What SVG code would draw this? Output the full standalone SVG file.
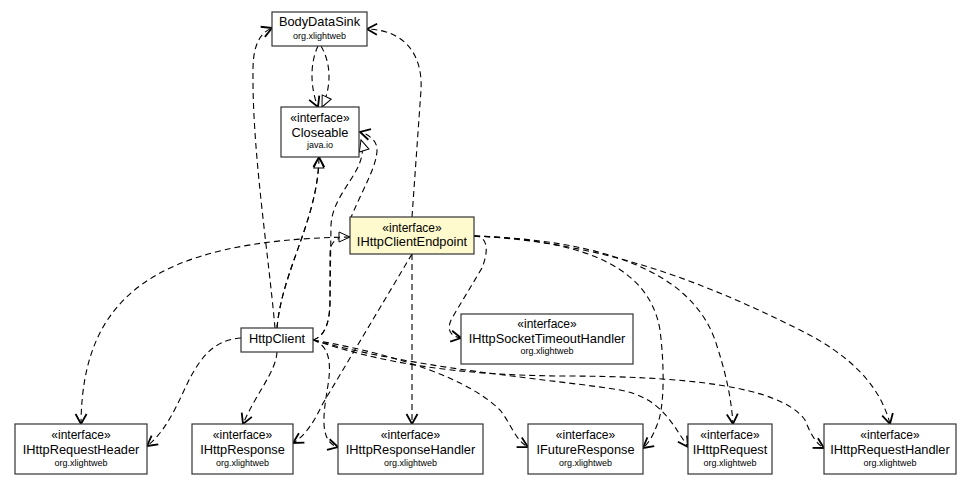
<svg xmlns="http://www.w3.org/2000/svg" width="973" height="485" viewBox="0 0 973 485">
<style>
.box{fill:#fff;stroke:#333;stroke-width:1.2}
.sel{fill:#fffacd;stroke:#333;stroke-width:1.2}
.st{font-family:"Liberation Sans",Arial,sans-serif;font-size:12px;fill:#000;text-anchor:middle}
.nm{font-family:"Liberation Sans",Arial,sans-serif;font-size:12.8px;fill:#000;text-anchor:middle}
.pk{font-family:"Liberation Sans",Arial,sans-serif;font-size:9px;fill:#000;text-anchor:middle}
.e{fill:none;stroke:#000;stroke-width:1.1;stroke-dasharray:6,4}
.dep{marker-end:url(#dep)}
.real{marker-end:url(#real)}
</style>
<defs>
<marker id="dep" viewBox="-13 -8 15 16" refX="0" refY="0" markerWidth="15" markerHeight="16" orient="auto" markerUnits="userSpaceOnUse">
<path d="M-10,-5.5 L0,0 L-10,5.5" fill="none" stroke="#000" stroke-width="1.8" stroke-dasharray="none"/>
</marker>
<marker id="real" viewBox="-13 -8 15 16" refX="0" refY="0" markerWidth="15" markerHeight="16" orient="auto" markerUnits="userSpaceOnUse">
<path d="M0,0 L-11,-5 L-11,5 Z" fill="#fff" stroke="#000" stroke-width="1" stroke-dasharray="none"/>
</marker>
</defs>
<g id="connectors">
<path class="e dep" d="M318,46 C309,65 311,90 318,107"/>
<path class="e real" d="M321,46 C332,65 331,88 322,107"/>
<path class="e dep" d="M275,328 C268,250 252,150 253,70 C253,45 260,33 272,28"/>
<path class="e real" d="M277,328 C282,270 318,220 319,157"/>
<path class="e dep" d="M277,328 C282,270 318,220 319,157"/>
<path class="e real" d="M313,340 C326,336 330,320 330,300 L331,225 C333,190 370,170 361,140"/>
<path class="e dep" d="M350,220 C362,190 378,165 377,148 C376,140 368,134 360,132"/>
<path class="e real" d="M313,340 C326,336 330,320 330,300 L330,255 C330,243 334,237 350,237"/>
<path class="e dep" d="M350,237 C150,240 82,300 81,424"/>
<path class="e dep" d="M241,338 C212,340 200,360 190,378 C180,398 168,430 147,446"/>
<path class="e dep" d="M277,352 C276,372 255,395 243,424"/>
<path class="e dep" d="M412,254 L322,405 C314,422 305,436 293,443"/>
<path class="e dep" d="M412,254 L412,424"/>
<path class="e dep" d="M313,340 C328,345 332,360 328,385 C324,410 318,442 338,447"/>
<path class="e dep" d="M412,217 L421,90 C423,55 405,30 367,29"/>
<path class="e dep" d="M474,236 C488,236 489,250 482,268 L452,318 C446,330 450,336 461,338"/>
<path class="e dep" d="M474,236 C590,240 650,270 660,330 C665,370 664,410 657,425 C653,436 648,444 643,448"/>
<path class="e dep" d="M474,236 C600,240 690,270 715,340 C725,370 731,395 733,424"/>
<path class="e dep" d="M474,236 C600,242 700,280 800,330 C850,355 880,385 890,424"/>
<path class="e dep" d="M313,340 C400,355 470,380 500,410 C510,422 515,440 528,447"/>
<path class="e dep" d="M313,340 C420,370 560,380 620,390 C660,398 670,420 688,447"/>
<path class="e dep" d="M313,340 C380,362 450,375 560,376 C680,376 780,385 805,420 C810,432 815,443 824,448"/>
</g>
<g id="BodyDataSink">
<rect class="box" x="272" y="12" width="95" height="34"/>
<text class="nm" x="319.5" y="26">BodyDataSink</text>
<text class="pk" x="319.5" y="39">org.xlightweb</text>
</g>
<g id="Closeable">
<rect class="box" x="281" y="107" width="78" height="50"/>
<text class="st" x="320" y="122">«interface»</text>
<text class="nm" x="320" y="137">Closeable</text>
<text class="pk" x="320" y="148">java.io</text>
</g>
<g id="IHttpClientEndpoint">
<rect class="sel" x="350" y="217" width="124" height="37"/>
<text class="st" x="412" y="231.5">«interface»</text>
<text class="nm" x="412" y="246">IHttpClientEndpoint</text>
</g>
<g id="HttpClient">
<rect class="box" x="241" y="328" width="72" height="24"/>
<text class="nm" x="277" y="343">HttpClient</text>
</g>
<g id="IHttpSocketTimeoutHandler">
<rect class="box" x="461" y="314" width="172" height="50"/>
<text class="st" x="547" y="328">«interface»</text>
<text class="nm" x="547" y="343">IHttpSocketTimeoutHandler</text>
<text class="pk" x="547" y="354">org.xlightweb</text>
</g>
<g id="IHttpRequestHeader">
<rect class="box" x="15" y="424" width="132" height="50"/>
<text class="st" x="81" y="439">«interface»</text>
<text class="nm" x="81" y="454">IHttpRequestHeader</text>
<text class="pk" x="81" y="465.5">org.xlightweb</text>
</g>
<g id="IHttpResponse">
<rect class="box" x="192" y="424" width="101" height="50"/>
<text class="st" x="242.5" y="439">«interface»</text>
<text class="nm" x="242.5" y="454">IHttpResponse</text>
<text class="pk" x="242.5" y="465.5">org.xlightweb</text>
</g>
<g id="IHttpResponseHandler">
<rect class="box" x="338" y="424" width="145" height="50"/>
<text class="st" x="410.5" y="439">«interface»</text>
<text class="nm" x="410.5" y="454">IHttpResponseHandler</text>
<text class="pk" x="410.5" y="465.5">org.xlightweb</text>
</g>
<g id="IFutureResponse">
<rect class="box" x="528" y="424" width="115" height="50"/>
<text class="st" x="585.5" y="439">«interface»</text>
<text class="nm" x="585.5" y="454">IFutureResponse</text>
<text class="pk" x="585.5" y="465.5">org.xlightweb</text>
</g>
<g id="IHttpRequest">
<rect class="box" x="688" y="424" width="84" height="50"/>
<text class="st" x="730" y="439">«interface»</text>
<text class="nm" x="730" y="454">IHttpRequest</text>
<text class="pk" x="730" y="465.5">org.xlightweb</text>
</g>
<g id="IHttpRequestHandler">
<rect class="box" x="824" y="424" width="132" height="50"/>
<text class="st" x="890" y="439">«interface»</text>
<text class="nm" x="890" y="454">IHttpRequestHandler</text>
<text class="pk" x="890" y="465.5">org.xlightweb</text>
</g>
</svg>
